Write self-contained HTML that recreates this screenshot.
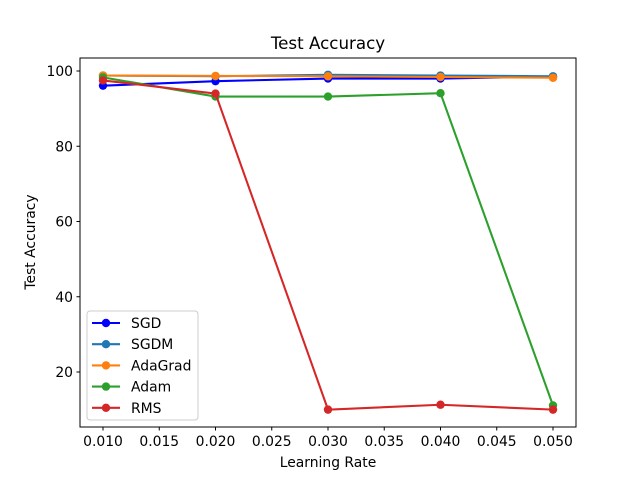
<!DOCTYPE html>
<html><head><meta charset="utf-8"><style>body{margin:0;background:#fff}svg{font-family:"DejaVu Sans","Liberation Sans",sans-serif}</style></head>
<body>
<svg id="chart" width="640" height="480" viewBox="0 0 640 480" xmlns="http://www.w3.org/2000/svg">
<rect width="640" height="480" fill="#fff"/>
<text x="328" y="49" font-size="16.7" text-anchor="middle">Test Accuracy</text>
<g id="ticks"></g>
<g id="series"></g>
<rect x="80" y="58" width="496" height="369" fill="none" stroke="#000" stroke-width="1"/>
<text x="328" y="467" font-size="13.9" text-anchor="middle">Learning Rate</text>
<text transform="translate(35,242) rotate(-90)" font-size="13.9" text-anchor="middle">Test Accuracy</text>
<g id="legend"></g>
</svg>
<script>
const xValues=[0.010,0.020,0.030,0.040,0.050];
const xTicks=[0.010,0.015,0.020,0.025,0.030,0.035,0.040,0.045,0.050];
const yTicks=[20,40,60,80,100];
const seriesNames=["SGD","SGDM","AdaGrad","Adam","RMS"];
const seriesColors=["#0000ff","#1f77b4","#ff7f0e","#2ca02c","#d62728"];
const sgd=[96.1,97.3,98.0,98.0,98.5];
const sgdm=[98.8,98.6,99.0,98.8,98.6];
const adagrad=[98.8,98.7,98.6,98.4,98.2];
const adam=[98.3,93.2,93.2,94.1,11.1];
const rms=[97.5,94.0,10.0,11.3,10.0];
const allSeries=[sgd,sgdm,adagrad,adam,rms];
const NS="http://www.w3.org/2000/svg";
function X(v){return 103+(v-0.010)/0.040*450;}
function Y(v){return 71+(100-v)*301/80;}
function mk(tag,attrs,parent){const e=document.createElementNS(NS,tag);for(const k in attrs)e.setAttribute(k,attrs[k]);parent.appendChild(e);return e;}
const tg=document.getElementById('ticks');
xTicks.forEach(t=>{const x=X(t);
 const l=mk('line',{x1:x,x2:x,y1:427,y2:430.5,stroke:'#000'},tg);
 
 
 const tx=mk('text',{x:x,y:446,'font-size':'13.9','text-anchor':'middle'},tg);tx.textContent=t.toFixed(3);
 
 });
yTicks.forEach(t=>{const y=Y(t);
 const l=mk('line',{x1:76.5,x2:80,y1:y,y2:y,stroke:'#000'},tg);
 
 
 const tx=mk('text',{x:73,y:y+5,'font-size':'13.9','text-anchor':'end'},tg);tx.textContent=t;
 
 });
const sg=document.getElementById('series');
allSeries.forEach((vals,i)=>{
 const g=mk('g',{},sg);
 
 
 mk('polyline',{points:vals.map((v,j)=>X(xValues[j])+','+Y(v)).join(' '),fill:'none',stroke:seriesColors[i],'stroke-width':2.08},g);
 vals.forEach((v,j)=>{const c=mk('circle',{cx:X(xValues[j]),cy:Y(v),r:4.2,fill:seriesColors[i]},g);
  
  });
});
const lg=document.getElementById('legend');
const box=mk('rect',{x:87,y:311,width:111,height:109,rx:3,fill:'#fff','fill-opacity':0.8,stroke:'#ccc'},lg);


seriesNames.forEach((n,i)=>{const y=323+i*21.2;
 const g=mk('g',{},lg);
 
 
 mk('line',{x1:92,x2:120,y1:y,y2:y,stroke:seriesColors[i],'stroke-width':2.08},g);
 mk('circle',{cx:106,cy:y,r:4.2,fill:seriesColors[i]},g);
 const t=mk('text',{x:131,y:y+5,'font-size':'13.9'},g);t.textContent=n;});
</script>
</body></html>
